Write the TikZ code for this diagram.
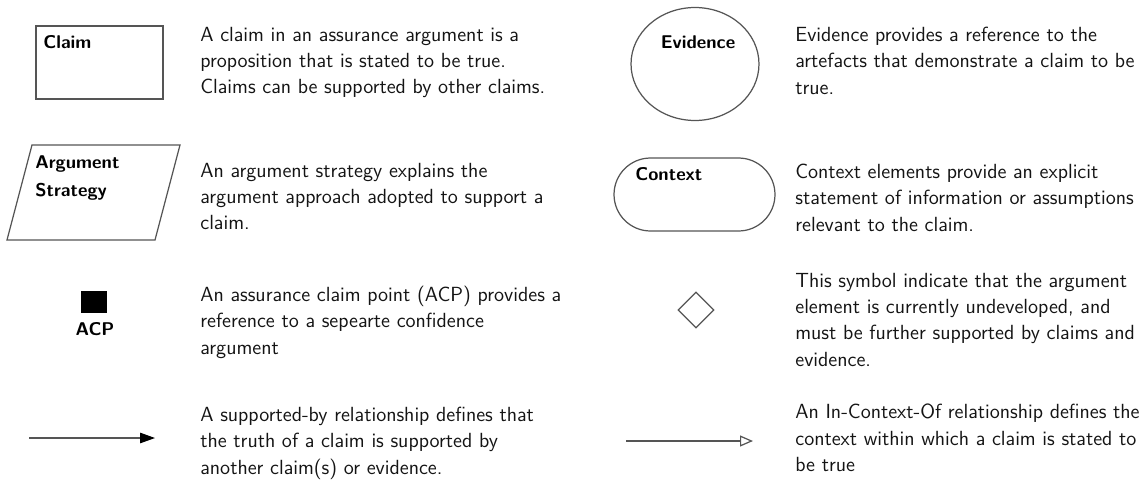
\documentclass[tikz,border=0pt]{standalone}
\usepackage{fontspec}
\usetikzlibrary{shapes.geometric, arrows.meta, positioning}
\definecolor{linegray}{RGB}{85,85,85}
\definecolor{textgray}{RGB}{20,20,20}

\begin{document}
\begin{tikzpicture}[
    x=0.02cm, y=-0.02cm,
    elem/.style={draw=linegray, line width=0.7pt, inner sep=0pt},
    tag/.style={font=\sffamily\bfseries\fontsize{10.5}{16}\selectfont, text=black, inner sep=0pt, align=left},
    desc/.style={font=\sffamily\fontsize{11.65}{14.9}\selectfont, text=textgray, inner sep=0pt, align=left, anchor=north west},
    arrow/.style={draw=linegray, line width=0.7pt, -{Triangle[length=3mm, width=2.1mm, color=black]}},
    openarrow/.style={draw=linegray, line width=0.7pt, -{Triangle[open, length=2.6mm, width=2.2mm]}}
]
    \useasboundingbox (0,0) rectangle (1146,480);

    % left column
    \node[elem, rectangle, minimum width=2.54cm, minimum height=1.46cm] (claim) at (99.5,62.5) {};
    \node[tag, anchor=north west] (claimtag) at (43,35) {Claim};
    \node[desc] (claimtxt) at (200,27) {A claim in an assurance argument is a\\proposition that is stated to be true.\\Claims can be supported by other claims.};

    \coordinate (stratbl) at (7,240);
    \coordinate (strattl) at (32,145);
    \coordinate (strattr) at (180,145);
    \coordinate (stratbr) at (155,240);
    \draw[elem, line join=miter] (stratbl) -- (strattl) -- (strattr) -- (stratbr) -- cycle;
    \node[tag, anchor=north west] (strategytag) at (35,155) {Argument\\Strategy};
    \node[desc] (strategytxt) at (200,163) {An argument strategy explains the\\argument approach adopted to support a\\claim.};

    \node[rectangle, fill=black, inner sep=0pt, minimum width=0.52cm, minimum height=0.44cm] (acp) at (94,302) {};
    \node[tag, anchor=north] (acptag) at (95,322) {ACP};
    \node[desc] (acptxt) at (200,286) {An assurance claim point (ACP) provides a\\reference to a sepearte confidence\\argument};

    \coordinate (sbtail) at (29,438);
    \coordinate (sbhead) at (155,438);
    \draw[arrow] (sbtail) -- (sbhead);
    \node[desc] (sbtxt) at (200,407) {A supported-by relationship defines that\\the truth of a claim is supported by\\another claim(s) or evidence.};

    % right column
    \node[elem, ellipse, minimum width=2.56cm, minimum height=2.26cm] (evidence) at (695,64) {};
    \node[tag, anchor=north] (evidencetag) at (698,35) {Evidence};
    \node[desc] (evidencetxt) at (795,27) {Evidence provides a reference to the\\artefacts that demonstrate a claim to be\\true.};

    \node[elem, rectangle, rounded corners=0.73cm, minimum width=3.22cm, minimum height=1.46cm] (context) at (694.5,194.5) {};
    \node[tag, anchor=north west] (contexttag) at (635,167) {Context};
    \node[desc] (contexttxt) at (795,164) {Context elements provide an explicit\\statement of information or assumptions\\relevant to the claim.};

    \node[elem, diamond, minimum size=0.72cm] (undev) at (696,310) {};
    \node[desc] (undevtxt) at (795,273) {This symbol indicate that the argument\\element is currently undeveloped, and\\must be further supported by claims and\\evidence.};

    \coordinate (ictail) at (626,441);
    \coordinate (ichead) at (753,441);
    \draw[openarrow] (ictail) -- (ichead);
    \node[desc] (ictxt) at (795,404) {An In-Context-Of relationship defines the\\context within which a claim is stated to\\be true};
\end{tikzpicture}
\end{document}
